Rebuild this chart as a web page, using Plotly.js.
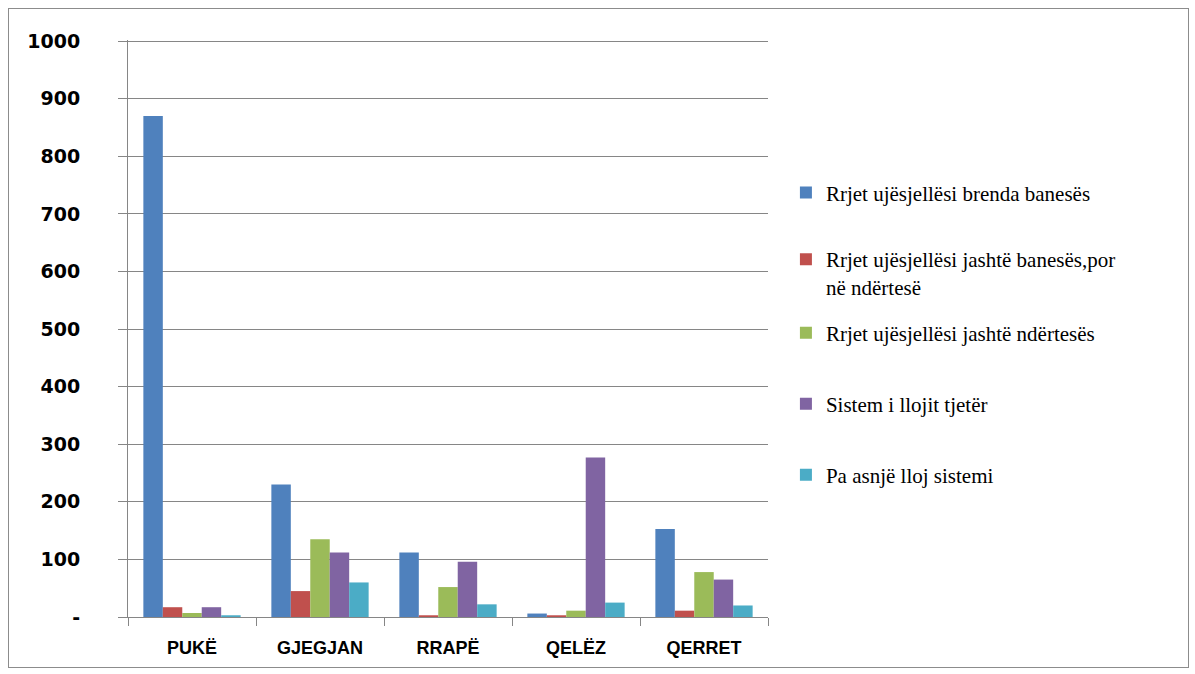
<!DOCTYPE html>
<html>
<head>
<meta charset="utf-8">
<script src="https://cdn.plot.ly/plotly-3.0.1.min.js"></script>
<style>
  html, body { margin: 0; padding: 0; background: #ffffff; }
  #frame { position: absolute; left: 8px; top: 8px; width: 1179px; height: 658px; border: 1px solid #8c8c8c; }
  #chart { width: 1179px; height: 658px; }
</style>
</head>
<body>
<div id="frame"><div id="chart"></div></div>
<script>
const categories = ["PUKË", "GJEGJAN", "RRAPË", "QELËZ", "QERRET"];
const seriesNames = [
  "Rrjet ujësjellësi brenda banesës",
  "Rrjet ujësjellësi jashtë banesës,por<br>në ndërtesë",
  "Rrjet ujësjellësi jashtë ndërtesës",
  "Sistem i llojit tjetër",
  "Pa asnjë lloj sistemi"
];
const brendaBanesës = [870, 230, 112, 6, 153];
const jashtëBanesës = [17, 45, 3, 3, 11];
const jashtëNdërtesës = [7, 135, 52, 11, 78];
const llojitTjetër = [17, 112, 96, 277, 65];
const asnjëSistem = [3, 60, 22, 25, 20];
const seriesColors = ["#4F81BD", "#C0504D", "#9BBB59", "#8064A2", "#4BACC6"];
const yTickVals = [0, 100, 200, 300, 400, 500, 600, 700, 800, 900, 1000];
const yTickText = ["-", "100", "200", "300", "400", "500", "600", "700", "800", "900", "1000"];

const seriesValues = [brendaBanesës, jashtëBanesës, jashtëNdërtesës, llojitTjetër, asnjëSistem];
const legendIds = ["legend", "legend2", "legend3", "legend4", "legend5"];
const traces = seriesValues.map((vals, i) => ({
  type: "bar",
  name: seriesNames[i],
  x: categories,
  y: vals,
  marker: { color: seriesColors[i] },
  legend: legendIds[i]
}));

const legendFont = { family: "Liberation Serif, Times New Roman, serif", size: 21, color: "#000000" };
const legendY = [0.735, 0.596, 0.492, 0.369, 0.246];

const layout = {
  width: 1179,
  height: 658,
  margin: { l: 119, r: 420, t: 31, b: 50 },
  paper_bgcolor: "#ffffff",
  plot_bgcolor: "#ffffff",
  barmode: "group",
  bargap: 0.24,
  bargroupgap: 0,
  showlegend: true,
  xaxis: {
    type: "category",
    showgrid: false,
    showline: true,
    linecolor: "#868686",
    linewidth: 1,
    ticks: "outside",
    tickson: "boundaries",
    ticklen: 8,
    tickcolor: "#868686",
    ticklabelstandoff: 14,
    tickfont: { family: "Liberation Sans, Arial, sans-serif", size: 18, color: "#000000", weight: "bold" }
  },
  yaxis: {
    range: [0, 1002],
    tickvals: yTickVals,
    ticktext: yTickText,
    showgrid: true,
    gridcolor: "#868686",
    gridwidth: 1,
    zeroline: false,
    showline: true,
    linecolor: "#868686",
    linewidth: 1,
    ticks: "outside",
    ticklen: 9,
    tickcolor: "#868686",
    ticklabelstandoff: 34,
    tickfont: { family: "DejaVu Sans, Verdana, sans-serif", size: 19, color: "#000000", weight: "bold" }
  }
};

legendIds.forEach((id, i) => {
  layout[id] = {
    x: 1.028, xanchor: "left",
    y: legendY[i], yanchor: "middle",
    font: legendFont,
    valign: "top",
    bgcolor: "rgba(0,0,0,0)"
  };
});

Plotly.newPlot("chart", traces, layout, { staticPlot: true, displayModeBar: false });
</script>
</body>
</html>
